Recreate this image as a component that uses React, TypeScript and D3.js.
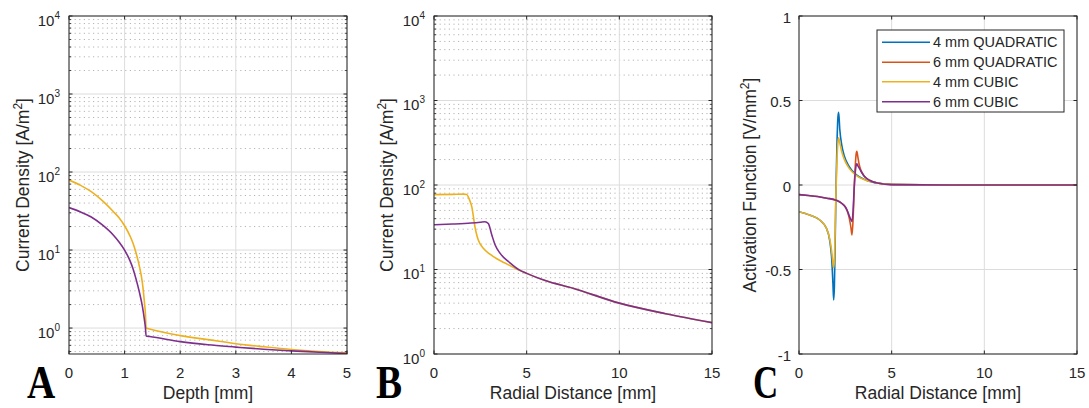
import React from 'react';
import * as d3 from 'd3';

// ---------- Panel A: current density vs depth ----------
const depthA4 = [0, 0.2, 0.4, 0.6, 0.8, 0.9, 1.0, 1.1, 1.15, 1.2, 1.27, 1.32, 1.355, 1.375, 1.387, 1.45, 2, 2.5, 3, 3.5, 4, 4.5, 5];
const depthA4Cubic = [79, 68, 56, 43, 31, 26, 20.5, 15, 12.3, 9.5, 6, 3.8, 2.2, 1.5, 1.0, 0.97, 0.8, 0.71, 0.63, 0.575, 0.53, 0.5, 0.48];
const depthA6 = [0, 0.2, 0.4, 0.6, 0.8, 0.9, 1.0, 1.1, 1.15, 1.2, 1.27, 1.32, 1.355, 1.375, 1.387, 1.45, 2, 2.5, 3, 3.5, 4, 4.5, 5];
const depthA6Cubic = [35, 31, 26.5, 21, 15.5, 12.7, 10, 7.2, 5.8, 4.4, 2.8, 1.9, 1.3, 1.0, 0.79, 0.78, 0.67, 0.61, 0.57, 0.535, 0.51, 0.49, 0.47];

// ---------- Panel B: current density vs radial distance ----------
const radialB4 = [0, 1, 1.6, 1.77, 1.9, 2.04, 2.21, 2.3, 2.39, 2.66, 3.0, 3.39, 3.8, 4.28, 4.6, 5, 6, 7.5, 10, 12.5, 15];
const radialB4Cubic = [77, 77.5, 78, 77, 68, 55, 32, 26, 22.3, 17.8, 15.3, 13.4, 12, 10.6, 9.8, 9.0, 7.4, 6.0, 4.0, 3.0, 2.35];
const radialB6 = [0, 1, 2, 2.5, 2.75, 2.93, 3.12, 3.3, 3.57, 4.1, 4.6, 5, 6, 7.5, 10, 12.5, 15];
const radialB6Cubic = [33.8, 34.5, 35.5, 36.3, 36.8, 35, 25.6, 19.5, 15.5, 12, 9.9, 9.0, 7.4, 6.0, 4.0, 3.0, 2.35];

// ---------- Panel C: activation function ----------
const radialC4 = [0, 0.58, 1.12, 1.48, 1.66, 1.76, 1.83, 1.87, 1.91, 1.95, 2.0, 2.05, 2.1, 2.14, 2.2, 2.3, 2.45, 2.7, 3.1, 3.6, 4.3, 5, 10, 15];
const act4Quadratic = [-0.158, -0.178, -0.207, -0.256, -0.33, -0.43, -0.58, -0.68, -0.6, -0.35, 0.0, 0.25, 0.4, 0.43, 0.33, 0.24, 0.17, 0.11, 0.06, 0.03, 0.01, 0.003, 0, 0];
const act4Cubic = [-0.158, -0.178, -0.207, -0.256, -0.32, -0.39, -0.46, -0.49, -0.44, -0.28, -0.02, 0.15, 0.25, 0.28, 0.25, 0.2, 0.15, 0.1, 0.055, 0.028, 0.01, 0.003, 0, 0];
const radialC6 = [0, 0.5, 1, 1.5, 2, 2.3, 2.5, 2.62, 2.72, 2.8, 2.86, 2.92, 2.98, 3.04, 3.08, 3.12, 3.17, 3.25, 3.35, 3.5, 3.8, 4.3, 5, 10, 15];
const act6Quadratic = [-0.057, -0.062, -0.068, -0.078, -0.09, -0.108, -0.13, -0.16, -0.2, -0.25, -0.296, -0.2, -0.02, 0.12, 0.18, 0.2, 0.17, 0.12, 0.085, 0.055, 0.028, 0.01, 0.002, 0, 0];
const act6Cubic = [-0.057, -0.062, -0.068, -0.078, -0.09, -0.108, -0.13, -0.155, -0.185, -0.205, -0.215, -0.15, -0.01, 0.08, 0.115, 0.125, 0.115, 0.1, 0.08, 0.055, 0.028, 0.01, 0.002, 0, 0];

// ---------- ticks / labels ----------
const xTicksA = [0, 1, 2, 3, 4, 5];
const xTicksBC = [0, 5, 10, 15];
const logExponents = [0, 1, 2, 3, 4];
const yTicksC = [-1, -0.5, 0, 0.5, 1];
const legendLabels = ['4 mm QUADRATIC', '6 mm QUADRATIC', '4 mm CUBIC', '6 mm CUBIC'];

const COLORS = ['#0072BD', '#D95319', '#EDB120', '#7E2F8E'];
const FONT = "'Liberation Sans', Arial, Helvetica, sans-serif";
const AX = '#262626';
const TOP = 16;
const BOTTOM = 354;
const W = 278;

type Series = { x: number[]; y: number[]; color: string };

function zip(x: number[], y: number[]): [number, number][] {
  return x.map((v, i) => [v, y[i]]);
}

function Panel(props: {
  id: string;
  left: number;
  xDomain: [number, number];
  xTicks: number[];
  log: boolean;
  yDomain: [number, number];
  series: Series[];
  xLabel: string;
  yLabelMain: string;
  yLabelSup: string;
  yLabelX: number;
  letter: string;
  letterX: number;
  letterScale: number;
  children?: React.ReactNode;
}) {
  const { id, left, xDomain, xTicks, log, yDomain, series } = props;
  const right = left + W;
  const xs = d3.scaleLinear().domain(xDomain).range([left, right]);
  const ys = log
    ? d3.scaleLog().domain(yDomain).range([BOTTOM, TOP])
    : d3.scaleLinear().domain(yDomain).range([BOTTOM, TOP]);

  const majorY: number[] = log ? logExponents.map((e) => Math.pow(10, e)) : yTicksC;
  const minorY: number[] = [];
  if (log) {
    for (let e = -1; e < 4; e++) {
      for (let m = 2; m <= 9; m++) {
        const v = m * Math.pow(10, e);
        if (v > yDomain[0] && v < yDomain[1]) minorY.push(v);
      }
    }
  }
  const line = d3
    .line<[number, number]>()
    .x((d) => xs(d[0]))
    .y((d) => ys(d[1]))
    .curve(d3.curveMonotoneX);

  const cy = (TOP + BOTTOM) / 2;
  const tl = 3.5;
  return (
    <g>
      <defs>
        <clipPath id={`clip-${id}`}>
          <rect x={left} y={TOP} width={W} height={BOTTOM - TOP} />
        </clipPath>
      </defs>
      <rect x={left} y={TOP} width={W} height={BOTTOM - TOP} fill="#fff" />
      {/* minor grid */}
      {minorY.map((v) => (
        <line key={`mg${v}`} x1={left + 1} x2={right} y1={ys(v)} y2={ys(v)} stroke="#b4b4b4" strokeWidth={1} strokeDasharray="1.2,3.4" />
      ))}
      {/* major grid */}
      {xTicks.map((t) => (
        <line key={`gx${t}`} x1={xs(t)} x2={xs(t)} y1={TOP} y2={BOTTOM} stroke="#dcdcdc" strokeWidth={1} />
      ))}
      {majorY.map((v) => (
        <line key={`gy${v}`} x1={left} x2={right} y1={ys(v)} y2={ys(v)} stroke="#dcdcdc" strokeWidth={1} />
      ))}
      {/* data */}
      <g clipPath={`url(#clip-${id})`}>
        {series.map((s, i) => (
          <path key={i} d={line(zip(s.x, s.y)) || ''} fill="none" stroke={s.color} strokeWidth={1.6} strokeLinejoin="round" />
        ))}
      </g>
      {/* ticks */}
      {xTicks.map((t) => (
        <g key={`tx${t}`}>
          <line x1={xs(t)} x2={xs(t)} y1={BOTTOM} y2={BOTTOM - tl} stroke={AX} />
          <line x1={xs(t)} x2={xs(t)} y1={TOP} y2={TOP + tl} stroke={AX} />
          <text x={xs(t)} y={BOTTOM + 24} textAnchor="middle" fontSize={15} fill={AX} fontFamily={FONT}>
            {t}
          </text>
        </g>
      ))}
      {majorY.map((v) => (
        <g key={`ty${v}`}>
          <line x1={left} x2={left + tl} y1={ys(v)} y2={ys(v)} stroke={AX} />
          <line x1={right} x2={right - tl} y1={ys(v)} y2={ys(v)} stroke={AX} />
        </g>
      ))}
      {minorY.map((v) => (
        <g key={`tmy${v}`}>
          <line x1={left} x2={left + 2.2} y1={ys(v)} y2={ys(v)} stroke={AX} strokeWidth={0.8} />
          <line x1={right} x2={right - 2.2} y1={ys(v)} y2={ys(v)} stroke={AX} strokeWidth={0.8} />
        </g>
      ))}
      {log
        ? logExponents.map((e) => (
            <text key={`ly${e}`} x={left - 9} y={ys(Math.pow(10, e)) + 9.5} textAnchor="end" fontSize={15} fill={AX} fontFamily={FONT}>
              10
              <tspan dy={-7} fontSize={10}>
                {e}
              </tspan>
            </text>
          ))
        : yTicksC.map((v) => (
            <text key={`ly${v}`} x={left - 8} y={ys(v) + 6.5} textAnchor="end" fontSize={15} fill={AX} fontFamily={FONT}>
              {v}
            </text>
          ))}
      {/* box */}
      <rect x={left} y={TOP} width={W} height={BOTTOM - TOP} fill="none" stroke={AX} strokeWidth={1} />
      {/* labels */}
      <text x={(left + right) / 2} y={399} textAnchor="middle" fontSize={17.5} fill={AX} fontFamily={FONT}>
        {props.xLabel}
      </text>
      <text
        transform={`translate(${props.yLabelX},${cy}) rotate(-90)`}
        textAnchor="middle"
        fontSize={17.5}
        fill={AX}
        fontFamily={FONT}
      >
        {props.yLabelMain}
        <tspan dy={-7} fontSize={12}>
          {props.yLabelSup}
        </tspan>
        <tspan dy={7}>]</tspan>
      </text>
      <text
        transform={`translate(${props.letterX},398) scale(${props.letterScale},1)`}
        fontSize={46}
        fontWeight="bold"
        fontFamily="'Liberation Serif', 'Times New Roman', serif"
        fill="#000"
      >
        {props.letter}
      </text>
      {props.children}
    </g>
  );
}

function Legend() {
  const x0 = 877;
  const y0 = 30;
  const rows = [42.3, 62.3, 81.8, 101.7];
  return (
    <g>
      <rect x={x0} y={y0} width={187} height={82} fill="#fff" stroke={AX} strokeWidth={1} />
      {legendLabels.map((lab, i) => (
        <g key={lab}>
          <line x1={882} x2={930} y1={rows[i]} y2={rows[i]} stroke={COLORS[i]} strokeWidth={1.6} />
          <text x={933} y={rows[i] + 5} fontSize={14.5} fill={AX} fontFamily={FONT}>
            {lab}
          </text>
        </g>
      ))}
    </g>
  );
}

export default function App() {
  return (
    <svg
      width={1089}
      height={408}
      viewBox="0 0 1089 408"
      style={{ position: 'absolute', left: 0, top: 0, background: '#fff' }}
    >
      <rect x={0} y={0} width={1089} height={408} fill="#fff" />
      <Panel
        id="a"
        left={69}
        xDomain={[0, 5]}
        xTicks={xTicksA}
        log={true}
        yDomain={[0.465, 10000]}
        series={[
          { x: depthA4, y: depthA4Cubic, color: COLORS[2] },
          { x: depthA6, y: depthA6Cubic, color: COLORS[3] },
        ]}
        xLabel="Depth [mm]"
        yLabelMain="Current Density [A/m"
        yLabelSup="2"
        yLabelX={29}
        letter="A"
        letterX={27}
        letterScale={0.85}
      />
      <Panel
        id="b"
        left={434}
        xDomain={[0, 15]}
        xTicks={xTicksBC}
        log={true}
        yDomain={[1, 10000]}
        series={[
          { x: radialB4, y: radialB4Cubic, color: COLORS[2] },
          { x: radialB6, y: radialB6Cubic, color: COLORS[3] },
        ]}
        xLabel="Radial Distance [mm]"
        yLabelMain="Current Density [A/m"
        yLabelSup="2"
        yLabelX={393}
        letter="B"
        letterX={376}
        letterScale={0.85}
      />
      <Panel
        id="c"
        left={799}
        xDomain={[0, 15]}
        xTicks={xTicksBC}
        log={false}
        yDomain={[-1, 1]}
        series={[
          { x: radialC4, y: act4Quadratic, color: COLORS[0] },
          { x: radialC6, y: act6Quadratic, color: COLORS[1] },
          { x: radialC4, y: act4Cubic, color: COLORS[2] },
          { x: radialC6, y: act6Cubic, color: COLORS[3] },
        ]}
        xLabel="Radial Distance [mm]"
        yLabelMain="Activation Function [V/mm"
        yLabelSup="2"
        yLabelX={756}
        letter="C"
        letterX={753}
        letterScale={0.76}
      >
        <Legend />
      </Panel>
    </svg>
  );
}
